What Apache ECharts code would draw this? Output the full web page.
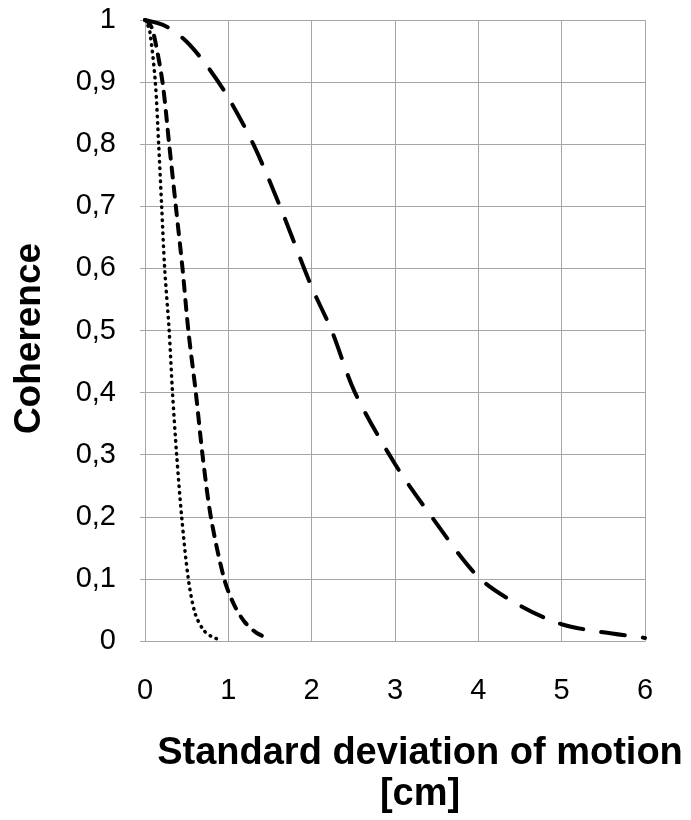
<!DOCTYPE html>
<html>
<head>
<meta charset="utf-8">
<script src="https://cdn.jsdelivr.net/npm/echarts@6/dist/echarts.min.js"></script>
<style>
html,body{margin:0;padding:0;background:#fff;}
#main{width:691px;height:820px;}
</style>
</head>
<body>
<div id="main"></div>
<script>
// values
var longDash = [[0,1],[0.25,0.99],[0.5,0.965],[0.75,0.925],[1,0.875],[1.3,0.8],[1.62,0.7],[2,0.57],[2.24,0.5],[2.52,0.4],[3,0.285],[3.44,0.2],[4,0.103],[4.5,0.057],[5,0.027],[5.5,0.014],[6,0.005]];
var shortDash = [[0,1],[0.05,0.995],[0.1,0.98],[0.21,0.9],[0.29,0.8],[0.37,0.7],[0.45,0.6],[0.52,0.5],[0.61,0.4],[0.69,0.3],[0.79,0.2],[0.95,0.1],[1.07,0.058],[1.2,0.03],[1.35,0.012],[1.5,0.004]];
var dotted = [[0,1],[0.03,0.993],[0.06,0.98],[0.124,0.9],[0.164,0.8],[0.2,0.7],[0.236,0.6],[0.29,0.5],[0.33,0.4],[0.38,0.3],[0.44,0.2],[0.52,0.1],[0.6,0.045],[0.7,0.018],[0.8,0.007],[0.9,0.002]];
var yTickLabels = ['0','0,1','0,2','0,3','0,4','0,5','0,6','0,7','0,8','0,9','1'];
var xTickLabels = ['0','1','2','3','4','5','6'];

var font = 'Arial, "Liberation Sans", sans-serif';
var gridColor = '#a6a6a6';

var myChart = echarts.init(document.getElementById('main'));
var option = {
	backgroundColor: '#fff',
	animation: false,
	grid: {left: 145, right: 46, top: 20, bottom: 176},
	xAxis: {
		type: 'value',
		min: 0,
		max: 6,
		interval: 1,
		name: 'Standard deviation of motion\n[cm]',
		nameLocation: 'middle',
		nameGap: 92,
		nameTextStyle: {
			fontFamily: font,
			fontSize: 38,
			fontWeight: 'bold',
			color: '#000',
			lineHeight: 41,
			padding: [0, 0, 0, 50]
		},
		axisLine: {lineStyle: {color: gridColor, width: 1}},
		axisTick: {show: false},
		axisLabel: {
			margin: 35,
			fontFamily: font,
			fontSize: 29,
			color: '#000',
			formatter: function(v){ return xTickLabels[Math.round(v)]; }
		},
		splitLine: {show: true, lineStyle: {color: gridColor, width: 1}}
	},
	yAxis: {
		type: 'value',
		min: 0,
		max: 1,
		interval: 0.1,
		name: 'Coherence',
		nameLocation: 'middle',
		nameGap: 97,
		nameTextStyle: {
			fontFamily: font,
			fontSize: 37,
			fontWeight: 'bold',
			color: '#000',
			padding: [0, 16, 0, 0]
		},
		axisLine: {show: true, lineStyle: {color: gridColor, width: 1}},
		axisTick: {show: true, length: 5, lineStyle: {color: gridColor}},
		axisLabel: {
			margin: 29,
			fontFamily: font,
			fontSize: 29,
			color: '#000',
			formatter: function(v){ return yTickLabels[Math.round(v * 10)]; }
		},
		splitLine: {show: true, lineStyle: {color: gridColor, width: 1}}
	},
	series: [{
		type: 'line',
		data: longDash,
		smooth: 0.3,
		showSymbol: false,
		lineStyle: {color: '#000', width: 4, type: [24, 18], cap: 'round'}
	}, {
		type: 'line',
		data: shortDash,
		smooth: 0.3,
		showSymbol: false,
		lineStyle: {color: '#000', width: 4, type: [10, 9], cap: 'round'}
	}, {
		type: 'line',
		data: dotted,
		smooth: 0.3,
		showSymbol: false,
		lineStyle: {color: '#000', width: 3.5, type: [0.5, 6], cap: 'round'}
	}]
};
if (option && typeof option === "object") {
	myChart.setOption(option, true);
}
</script>
</body>
</html>
